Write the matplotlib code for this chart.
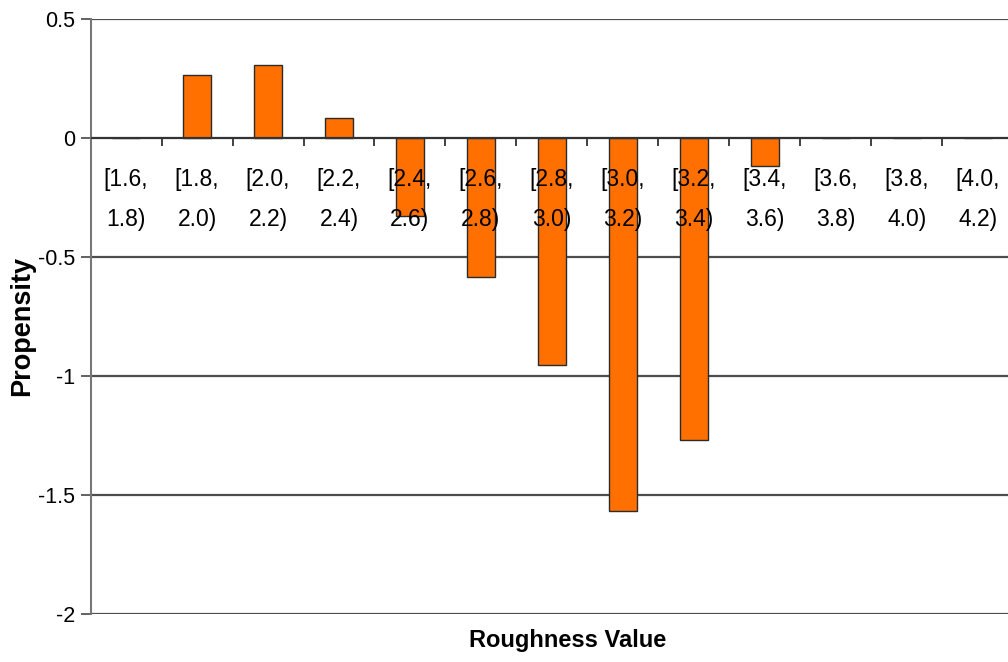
import matplotlib
matplotlib.use("Agg")
import matplotlib.pyplot as plt
from matplotlib import font_manager

# Roughness bins and their propensity values
bin_starts = ["1.6", "1.8", "2.0", "2.2", "2.4", "2.6", "2.8", "3.0", "3.2", "3.4", "3.6", "3.8", "4.0"]
bin_ends = ["1.8", "2.0", "2.2", "2.4", "2.6", "2.8", "3.0", "3.2", "3.4", "3.6", "3.8", "4.0", "4.2"]
propensity = [0.0, 0.267, 0.308, 0.087, -0.326, -0.585, -0.953, -1.566, -1.269, -0.118, 0.0, 0.0, 0.0]
y_ticks = [0.5, 0.0, -0.5, -1.0, -1.5, -2.0]
y_tick_labels = ["0.5", "0", "-0.5", "-1", "-1.5", "-2"]

names = {f.name for f in font_manager.fontManager.ttflist}
narrow = "Liberation Sans Narrow" if "Liberation Sans Narrow" in names else "Liberation Sans"
plt.rcParams["font.family"] = ["Liberation Sans", "DejaVu Sans"]

W, H = 1008, 662
fig = plt.figure(figsize=(W / 100, H / 100), dpi=100)
left, right, top, bottom = 90.6, 1013.2, 19.3, 614.0
ax = fig.add_axes([left / W, 1 - bottom / H, (right - left) / W, (bottom - top) / H])

n = len(propensity)
xs = list(range(n))
ax.set_xlim(-0.5, n - 0.5)
ax.set_ylim(-2.0, 0.5)

# horizontal gridlines
for yv in y_ticks:
    if yv != 0:
        ax.axhline(yv, color="#4d4d4d", lw=1.6, zorder=1)

ax.bar(xs, propensity, width=0.39, color="#ff7000", edgecolor="#2b2b2b",
       linewidth=1.0, zorder=2)

# category axis drawn at zero
ax.axhline(0, color="#333333", lw=1.6, zorder=3)
for b in range(1, n):
    ax.plot([b - 0.5, b - 0.5], [0, -0.033], color="#333333", lw=1.3, zorder=3,
            solid_capstyle="butt")

# category labels sitting below the zero line
for x, s, e in zip(xs, bin_starts, bin_ends):
    ax.text(x, -0.256, f"[{s},\n{e})", ha="center", va="center",
            fontsize=16.5, family=[narrow, "DejaVu Sans"], linespacing=1.95,
            color="black", zorder=4)

ax.set_xticks([])
ax.set_yticks(y_ticks)
ax.set_yticklabels(y_tick_labels, fontsize=15.5)
ax.tick_params(axis="y", direction="out", length=7, width=1.3, color="#555555", pad=4)

for side in ["top", "right", "bottom"]:
    ax.spines[side].set_visible(False)
ax.spines["left"].set_color("#777777")
ax.spines["left"].set_linewidth(1.5)

fig.text(568 / W, 1 - 640 / H, "Roughness Value", ha="center", va="center",
         fontsize=17, fontweight="bold")
fig.text(22 / W, 1 - 326 / H, "Propensity", ha="center", va="center",
         rotation=90, fontsize=19.5, fontweight="bold")

fig.savefig("out.png", dpi=100)
